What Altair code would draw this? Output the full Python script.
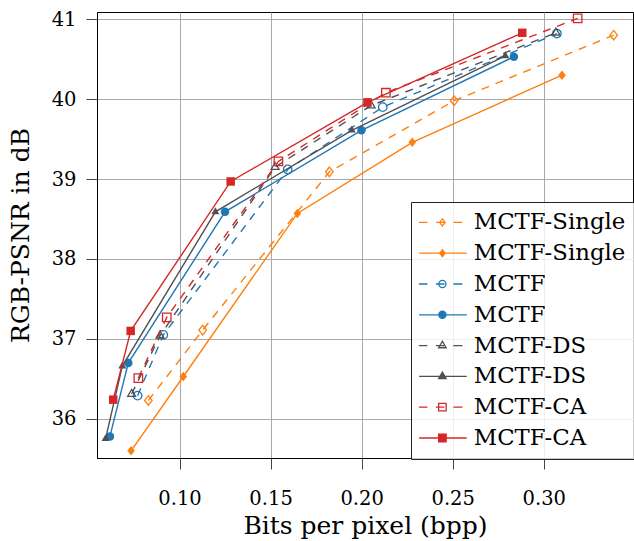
import altair as alt
import pandas as pd

# ---------------- data ----------------
series_names = ["MCTF-Single", "MCTF-Single", "MCTF", "MCTF",
                "MCTF-DS", "MCTF-DS", "MCTF-CA", "MCTF-CA"]
series_dashed = [True, False, True, False, True, False, True, False]

single_dashed_bpp = [0.0829, 0.1127, 0.1823, 0.2508, 0.3384]
single_dashed_psnr = [36.23, 37.11, 39.09, 39.98, 40.80]
single_bpp = [0.0734, 0.1021, 0.1647, 0.2278, 0.3100]
single_psnr = [35.60, 36.53, 38.57, 39.46, 40.30]
mctf_dashed_bpp = [0.0770, 0.0911, 0.1594, 0.2116, 0.3072]
mctf_dashed_psnr = [36.29, 37.05, 39.12, 39.90, 40.82]
mctf_bpp = [0.0618, 0.0719, 0.1250, 0.1999, 0.2836]
mctf_psnr = [35.78, 36.70, 38.59, 39.61, 40.53]
ds_dashed_bpp = [0.0737, 0.0893, 0.1525, 0.2052, 0.3067]
ds_dashed_psnr = [36.31, 37.04, 39.15, 39.92, 40.83]
ds_bpp = [0.0594, 0.0686, 0.1197, 0.1946, 0.2789]
ds_psnr = [35.75, 36.66, 38.59, 39.61, 40.54]
ca_dashed_bpp = [0.0774, 0.0930, 0.1543, 0.2133, 0.3186]
ca_dashed_psnr = [36.51, 37.27, 39.22, 40.08, 41.01]
ca_bpp = [0.0636, 0.0732, 0.1281, 0.2032, 0.2882]
ca_psnr = [36.24, 37.10, 38.97, 39.96, 40.83]

series_bpp = [single_dashed_bpp, single_bpp, mctf_dashed_bpp, mctf_bpp,
              ds_dashed_bpp, ds_bpp, ca_dashed_bpp, ca_bpp]
series_psnr = [single_dashed_psnr, single_psnr, mctf_dashed_psnr, mctf_psnr,
               ds_dashed_psnr, ds_psnr, ca_dashed_psnr, ca_psnr]

x_ticks = [0.10, 0.15, 0.20, 0.25, 0.30]
y_ticks = [36, 37, 38, 39, 40, 41]

# ---------------- styles ----------------
FONT = "DejaVu Serif"
family_color = {"MCTF-Single": "#ff7f0e", "MCTF": "#1f77b4",
                "MCTF-DS": "#505050", "MCTF-CA": "#d62728"}
plot_marker = {
    "MCTF-Single": ("M0,-1L0.8,0L0,1L-0.8,0Z", 90),
    "MCTF": ("circle", 72),
    "MCTF-DS": ("M0,-1L0.866,0.5L-0.866,0.5Z", 85),
    "MCTF-CA": ("square", 72),
}
legend_marker = {
    "MCTF-Single": "M0,-1.15L0.9,0L0,1.15L-0.9,0Z",
    "MCTF": "M1.2,0A1.2,1.2,0,1,1,-1.2,0A1.2,1.2,0,1,1,1.2,0Z",
    "MCTF-DS": "M0,-1.45L1.25,0.72L-1.25,0.72Z",
    "MCTF-CA": "M-1.25,-1.25H1.25V1.25H-1.25Z",
}
legend_line_dashed = "M-7.83,0H-5M-2.17,0H0.67M3.67,0H6.67"
legend_line_solid = "M-7.77,0H8.13"
DASH = [8, 7]

keys = [f"{n}|{'d' if d else 's'}" for n, d in zip(series_names, series_dashed)]

frames = []
for k, bx, py in zip(keys, series_bpp, series_psnr):
    frames.append(pd.DataFrame({"key": k, "bpp": bx, "psnr": py}))
df = pd.concat(frames, ignore_index=True)

xscale = alt.Scale(domain=[0.0547, 0.349], nice=False, zero=False)
yscale = alt.Scale(domain=[35.51, 41.09], nice=False, zero=False)
xenc = alt.X("bpp:Q", scale=xscale,
             axis=alt.Axis(values=x_ticks, format=".2f", title="Bits per pixel (bpp)"))
yenc = alt.Y("psnr:Q", scale=yscale,
             axis=alt.Axis(values=y_ticks, format="d", title="RGB-PSNR in dB"))

layers = []
for k, name, dashed in zip(keys, series_names, series_dashed):
    sub = alt.Chart(df).transform_filter(alt.datum.key == k)
    col = family_color[name]
    line_kw = dict(color=col, strokeWidth=1.4, clip=True)
    if dashed:
        line_kw["strokeDash"] = DASH
    layers.append(sub.mark_line(**line_kw).encode(x=xenc, y=yenc))
    shape, size = plot_marker[name]
    layers.append(sub.mark_point(shape=shape, size=size, filled=not dashed,
                                 color=col, opacity=1, strokeWidth=1.3)
                  .encode(x=xenc, y=yenc))

# legend (built from scales; no data drawn)
legend_shapes = [(legend_line_dashed if d else legend_line_solid) + legend_marker[n]
                 for n, d in zip(series_names, series_dashed)]
legend_stroke = [family_color[n] for n in series_names]
legend_fill = ["transparent" if d else family_color[n]
               for n, d in zip(series_names, series_dashed)]

leg = alt.Legend(title=None, orient="none", legendX=314, legendY=190,
                 direction="vertical", fillColor="rgba(255,255,255,0.8)",
                 strokeColor="#222222", padding=9, cornerRadius=0,
                 symbolSize=36, symbolStrokeWidth=1.3, symbolOffset=11,
                 labelOffset=20, labelFont=FONT, labelFontSize=22.8,
                 labelColor="black", rowPadding=6.8, labelLimit=400,
                 labelExpr="split(datum.label, '|')[0]")

legend_layer = alt.Chart(df).transform_filter("false").mark_point(
    opacity=1, strokeWidth=1.3).encode(
    x=xenc, y=yenc,
    color=alt.Color("key:N", scale=alt.Scale(domain=keys, range=legend_stroke),
                    legend=leg, sort=keys),
    fill=alt.Fill("key:N", scale=alt.Scale(domain=keys, range=legend_fill),
                  legend=leg, sort=keys),
    shape=alt.Shape("key:N", scale=alt.Scale(domain=keys, range=legend_shapes),
                    legend=leg, sort=keys),
)

chart = alt.layer(*layers, legend_layer).properties(
    width=536, height=446,
    autosize=alt.AutoSizeParams(type="none"),
    padding={"left": 97, "top": 12, "right": 1, "bottom": 83},
).configure_view(
    stroke="black", strokeWidth=1
).configure_axis(
    labelFont=FONT, labelFontSize=19.5, labelColor="black",
    titleFont=FONT, titleFontSize=25, titleFontWeight="normal",
    titleColor="black", gridColor="#a8a8a8", gridWidth=1,
    tickColor="#444444", tickSize=11, tickWidth=1,
    domainColor="black", domainWidth=1,
).configure_axisY(
    labelPadding=10, titlePadding=18,
).configure_axisX(
    labelPadding=20, titlePadding=6,
)

chart.save("out.html", embed_options={"renderer": "svg", "actions": False})
